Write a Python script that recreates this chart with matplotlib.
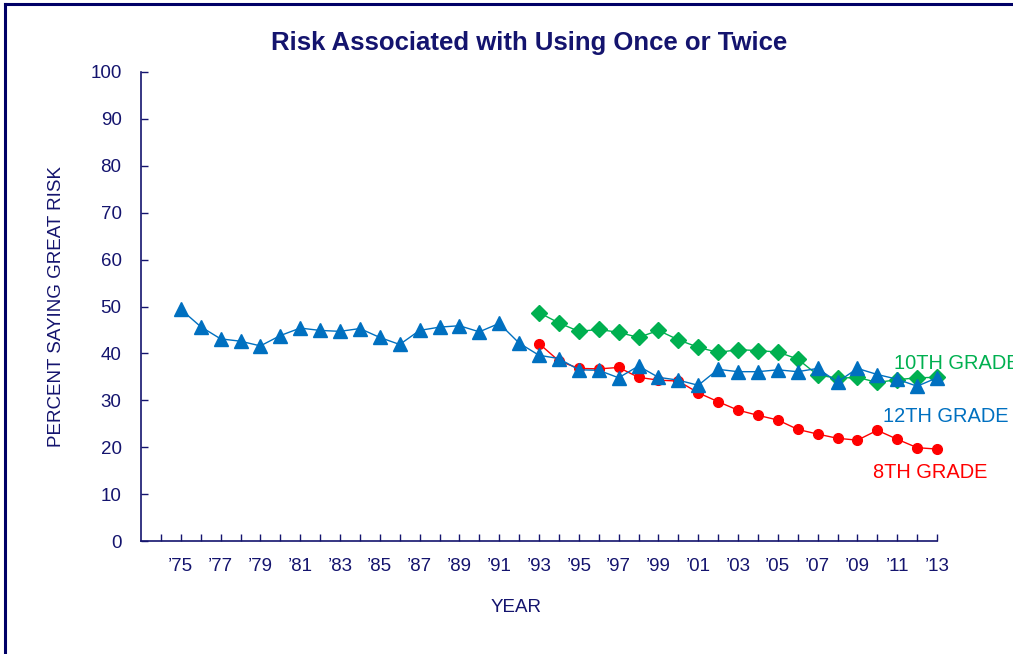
import numpy as np
import matplotlib
matplotlib.use('Agg')
import matplotlib.pyplot as plt
from matplotlib.lines import Line2D

matplotlib.rc('font', **{'family': 'Liberation Sans'})

navy = '#14146e'

years_12 = np.arange(1975, 2014)
grade12 = [49.4, 45.7, 43.1, 42.6, 41.6, 43.8, 45.4, 44.9, 44.7, 45.3, 43.4, 41.9,
           44.9, 45.6, 45.9, 44.6, 46.4, 42.2, 39.6, 38.9, 36.5, 36.4, 34.8, 37.3,
           34.9, 34.3, 33.2, 36.6, 36.1, 36.1, 36.5, 36.1, 36.8, 33.9, 36.8, 35.5,
           34.5, 33.0, 34.8]

years_10 = np.arange(1993, 2014)
grade10 = [48.7, 46.5, 44.7, 45.1, 44.5, 43.4, 44.9, 42.9, 41.3, 40.2, 40.8, 40.6,
           40.3, 38.8, 35.4, 34.7, 34.9, 33.8, 34.4, 34.8, 34.9]

years_8 = np.arange(1993, 2014)
grade8 = [42.1, 38.4, 36.8, 36.7, 37.0, 34.9, 34.3, 34.1, 31.6, 29.7, 27.9, 26.8,
          25.8, 23.8, 22.8, 21.9, 21.5, 23.6, 21.7, 19.9, 19.6]

tick_years = np.arange(1975, 2014, 2)
tick_labels = ["\u2019%02d" % (y % 100) for y in tick_years]

fig = plt.figure(figsize=(10.13, 6.54), dpi=100)
ax = fig.add_axes([141/1013, 113/654, 796/1013, 469/654])

ax.plot(years_8, grade8, color='#ff0000', marker='o', ms=7, lw=1, zorder=3, clip_on=False)
ax.plot(years_10, grade10, color='#00b050', marker='D', ms=8.3, lw=1, zorder=4, clip_on=False)
ax.plot(years_12, grade12, color='#0070c0', marker='^', ms=10.5, lw=1, zorder=5, clip_on=False)

ax.set_xlim(1973, 2013)
ax.set_ylim(0, 100)
ax.set_xticks(np.arange(1974, 2014))
ax.set_xticklabels([])
ax.set_yticks(np.arange(0, 101, 10))
for y, lab in zip(tick_years, tick_labels):
    ax.text(y, -3.6, lab, ha='center', va='top', fontsize=13.5, color=navy)
ax.tick_params(axis='both', direction='in', length=5, width=1, color=navy,
               labelsize=13.5, labelcolor=navy, pad=14)
ax.tick_params(axis='x', pad=0)

for s in ['top', 'right']:
    ax.spines[s].set_visible(False)
for s in ['left', 'bottom']:
    ax.spines[s].set_color(navy)
    ax.spines[s].set_linewidth(1.2)

ax.set_ylabel('PERCENT SAYING GREAT RISK', fontsize=13.5, color=navy, labelpad=18)
fig.text(516/1013, 1 - 608/654, 'YEAR', ha='center', va='center', fontsize=13.5, color=navy)
fig.text(529/1013, 1 - 43/654, 'Risk Associated with Using Once or Twice',
         ha='center', va='center', fontsize=18.5, fontweight='bold', color=navy)

ax.text(2010.85, 37.9, '10TH GRADE', color='#00b050', fontsize=14.4, ha='left', va='center',
        clip_on=False)
ax.text(2010.3, 26.6, '12TH GRADE', color='#0070c0', fontsize=14.4, ha='left', va='center')
ax.text(2009.8, 14.6, '8TH GRADE', color='#ff0000', fontsize=14.4, ha='left', va='center')

# frame around the chart
fig.add_artist(Line2D([5/1013, 5/1013], [0, 1 - 4/654], color='#000066', lw=2.2))
fig.add_artist(Line2D([5/1013, 1], [1 - 4/654, 1 - 4/654], color='#000066', lw=2.2))

fig.savefig('out.png', dpi=100)
